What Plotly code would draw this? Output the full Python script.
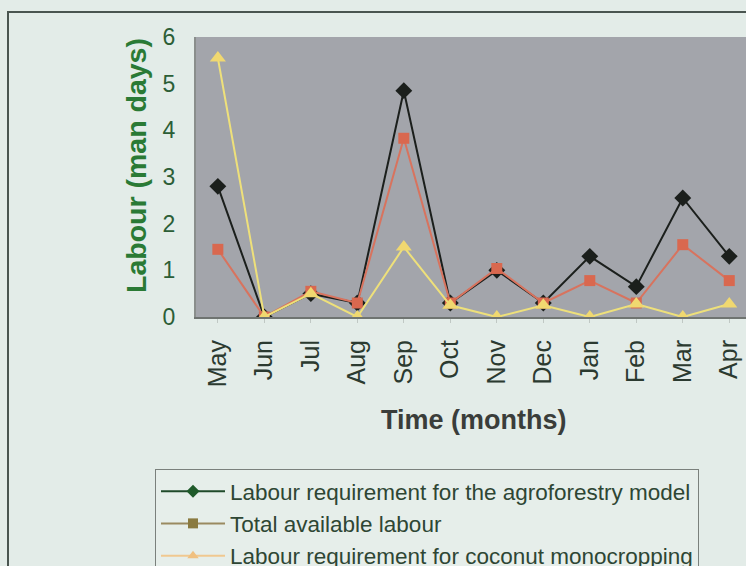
import plotly.graph_objects as go

months = ["May", "Jun", "Jul", "Aug", "Sep", "Oct", "Nov", "Dec", "Jan", "Feb", "Mar", "Apr"]
agroforestry = [2.8, 0, 0.5, 0.3, 4.85, 0.3, 1.0, 0.3, 1.3, 0.65, 2.55, 1.3]
available = [1.45, 0, 0.55, 0.3, 3.83, 0.3, 1.04, 0.3, 0.78, 0.3, 1.55, 0.78]
coconut = [5.55, 0, 0.5, 0, 1.5, 0.25, 0, 0.25, 0, 0.28, 0, 0.28]

names = ["Labour requirement for the agroforestry model",
         "Total available labour",
         "Labour requirement for coconut monocropping"]

fig = go.Figure()
fig.add_trace(go.Scatter(x=months, y=agroforestry, name=names[0], mode="lines+markers",
                         showlegend=False,
                         line=dict(color="#1b1f1c", width=2),
                         marker=dict(symbol="diamond", size=13, color="#1b1f1c")))
fig.add_trace(go.Scatter(x=months, y=available, name=names[1], mode="lines+markers",
                         showlegend=False,
                         line=dict(color="#d8735e", width=2),
                         marker=dict(symbol="square", size=11, color="#d9684f")))
fig.add_trace(go.Scatter(x=months, y=coconut, name=names[2], mode="lines+markers",
                         showlegend=False,
                         line=dict(color="#eee07a", width=2),
                         marker=dict(symbol="triangle-up", size=14, color="#f0d870")))

# legend entries (as printed in the legend box)
legend_styles = [("#1f4a2a", "#1f5a2a", "diamond"),
                 ("#9a8a60", "#8a7a40", "square"),
                 ("#f0c890", "#f0c080", "triangle-up")]
for nm, (lc, mc, sym) in zip(names, legend_styles):
    fig.add_trace(go.Scatter(x=[None], y=[None], name=nm, mode="lines+markers",
                             line=dict(color=lc, width=2),
                             marker=dict(symbol=sym, size=10, color=mc)))

W, H = 746, 566
L, R, T, B = 196, 0, 37, 249
pw, ph = W - L - R, H - T - B

def px(x):
    return (x - L) / pw

def py(y):
    return (H - B - y) / ph

fig.update_layout(
    width=W, height=H,
    margin=dict(l=L, r=R, t=T, b=B, autoexpand=False),
    paper_bgcolor="#e3ece8",
    plot_bgcolor="#a3a5ab",
    font=dict(family="Liberation Sans, Arial, sans-serif", color="#2b3a30"),
    showlegend=True,
    legend=dict(x=px(155), y=py(469), xanchor="left", yanchor="top",
                bgcolor="#e6eeea", bordercolor="#7a807c", borderwidth=1,
                font=dict(size=22.5, color="#2e4634"), tracegroupgap=0,
                itemwidth=64),
    shapes=[dict(type="rect", xref="paper", yref="paper",
                 x0=px(8), x1=px(760), y0=py(12), y1=py(580),
                 line=dict(color="#4a5550", width=2), layer="below")],
    annotations=[
        dict(text="<b>Time (months)</b>", xref="paper", yref="paper",
             x=px(474), y=py(420), xanchor="center", yanchor="middle",
             showarrow=False, font=dict(size=27, color="#3a3d3a")),
        dict(text="<b>Labour (man days)</b>", xref="paper", yref="paper",
             x=px(136), y=py(166), xanchor="center", yanchor="middle",
             textangle=-90, showarrow=False, font=dict(size=28.5, color="#2a7a35")),
    ],
)
fig.update_xaxes(
    type="category", range=[-0.47, 11.36],
    tickangle=-90, tickfont=dict(size=25, color="#2b3a30"),
    ticks="outside", ticklen=4, tickcolor="#c0c8c4",
    showgrid=False, showline=True, linecolor="#6f7471", linewidth=2,
    ticklabelstandoff=7,
)
fig.update_yaxes(
    range=[0, 6], dtick=1, tickfont=dict(size=23, color="#2c5e36"),
    showgrid=False, showline=True, linecolor="#8a8e8c", linewidth=2, mirror=True,
    zeroline=False, ticks="", ticklabelstandoff=14,
)

fig.write_html("out.html", config={"displayModeBar": False},
               post_script="document.body.style.margin='0';document.body.style.overflow='hidden';")
